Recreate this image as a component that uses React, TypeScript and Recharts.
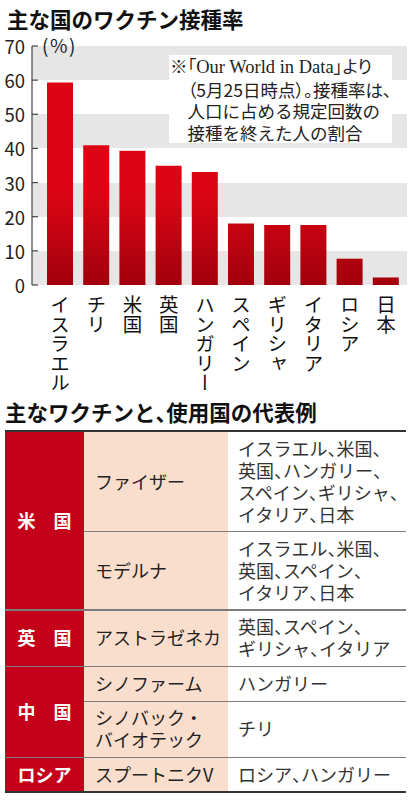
import React from 'react';
import { BarChart, Bar, XAxis, YAxis, CartesianGrid } from 'recharts';

// 接種率（%）
const countries = ['イスラエル', 'チリ', '米国', '英国', 'ハンガリー', 'スペイン', 'ギリシャ', 'イタリア', 'ロシア', '日本'];
const rates = [59.3, 40.9, 39.3, 34.9, 33.1, 18.0, 17.6, 17.6, 7.7, 2.2];
const yTicks = [0, 10, 20, 30, 40, 50, 60, 70];

const noteLines = ['（5月25日時点）。接種率は、', '人口に占める規定回数の', '接種を終えた人の割合'];

// 表
const makers = ['米　国', '英　国', '中　国', 'ロシア'];
const makerRows = [2, 1, 2, 1];
const vaccines = [['ファイザー'], ['モデルナ'], ['アストラゼネカ'], ['シノファーム'], ['シノバック・', 'バイオテック'], ['スプートニクV']];
const users = [
  ['イスラエル、米国、', '英国、ハンガリー、', 'スペイン、ギリシャ、', 'イタリア、日本'],
  ['イスラエル、米国、', '英国、スペイン、', 'イタリア、日本'],
  ['英国、スペイン、', 'ギリシャ、イタリア'],
  ['ハンガリー'],
  ['チリ'],
  ['ロシア、ハンガリー'],
];

const data = countries.map((country, i) => ({ country, rate: rates[i] }));

const FONT = '"Noto Sans CJK JP", "Noto Sans", sans-serif';
const RED = '#c4001a';
const PEACH = '#fadecd';
const LINE_H = 21.7;

// 読点だけ半角幅（halt）にする
function Jp({ text }: { text: string }) {
  const parts = text.split('、');
  return (
    <>
      {parts.map((p, i) => (
        <React.Fragment key={i}>
          {p}
          {i < parts.length - 1 && <span style={{ fontFeatureSettings: '"halt"' }}>、</span>}
        </React.Fragment>
      ))}
    </>
  );
}

function YTick(props: any) {
  const { x, y, payload } = props;
  return (
    <g>
      <line x1={x + 6} x2={x + 12} y1={y} y2={y} stroke="#444" strokeWidth={1.2} />
      <text x={x - 1} y={y} textAnchor="end" dominantBaseline="central" fontSize={18.5} fill="#222" fontFamily={FONT}>
        {payload.value}
      </text>
    </g>
  );
}

function VerticalTick(props: any) {
  const { x, y, payload } = props;
  return (
    <text
      x={x}
      y={y + 10}
      textAnchor="start"
      fontSize={19.5}
      fill="#111"
      fontFamily={FONT}
      style={{ writingMode: 'vertical-rl' }}
    >
      {payload.value}
    </text>
  );
}

function VaccineTable() {
  const heights = users.map((u, i) => 13 + LINE_H * Math.max(u.length, vaccines[i].length));
  const tops: number[] = [];
  let acc = 432;
  heights.forEach((h) => {
    tops.push(acc);
    acc += h;
  });
  const groupStarts: number[] = [];
  let r = 0;
  makerRows.forEach((n) => {
    groupStarts.push(r);
    r += n;
  });

  const cellText: React.CSSProperties = {
    position: 'absolute',
    display: 'flex',
    flexDirection: 'column',
    justifyContent: 'center',
    fontSize: 18,
    lineHeight: `${LINE_H}px`,
    color: '#222',
    whiteSpace: 'nowrap',
  };

  return (
    <>
      {makers.map((m, g) => {
        const start = groupStarts[g];
        const top = tops[start];
        const h = heights.slice(start, start + makerRows[g]).reduce((a, b) => a + b, 0);
        return (
          <div
            key={m}
            style={{
              ...cellText,
              left: 5, top, width: 79, height: h, background: RED, color: '#fff',
              fontWeight: 700, alignItems: 'center',
            }}
          >
            {m}
          </div>
        );
      })}
      {vaccines.map((v, i) => (
        <div key={'v' + i} style={{ ...cellText, left: 84, top: tops[i], width: 144, height: heights[i], background: PEACH, paddingLeft: 11, boxSizing: 'border-box' }}>
          {v.map((l) => <div key={l}>{l}</div>)}
        </div>
      ))}
      {users.map((u, i) => (
        <div key={'u' + i} style={{ ...cellText, left: 228, top: tops[i], width: 178, height: heights[i], paddingLeft: 10, boxSizing: 'border-box', color: '#333' }}>
          {u.map((l, j) => <div key={j}><Jp text={l} /></div>)}
        </div>
      ))}
      {tops.slice(1).map((t, i) => {
        const isGroup = groupStarts.includes(i + 1);
        return (
          <div key={'l' + i} style={{ position: 'absolute', left: isGroup ? 5 : 84, top: t - 0.5, width: isGroup ? 401 : 322, height: 1.2, background: '#7c7c7c' }} />
        );
      })}
      <div style={{ position: 'absolute', left: 5, top: 430, width: 401, height: 2, background: '#333' }} />
      <div style={{ position: 'absolute', left: 5, top: acc - 1, width: 401, height: 2, background: '#333' }} />
    </>
  );
}

export default function App() {
  return (
    <div style={{ position: 'absolute', left: 0, top: 0, width: 416, height: 800, background: '#fff', fontFamily: FONT, overflow: 'hidden' }}>
      <div style={{ position: 'absolute', left: 7, top: 8, fontSize: 21.5, fontWeight: 700, lineHeight: '22px', color: '#111', whiteSpace: 'nowrap' }}>
        主な国のワクチン接種率
      </div>

      <div style={{ position: 'absolute', left: 0, top: 0 }}>
        <BarChart width={416} height={400} data={data} margin={{ top: 46, right: 9, left: 0, bottom: 0 }}>
          <defs>
            <linearGradient id="barGrad" gradientUnits="userSpaceOnUse" x1="0" y1="195" x2="0" y2="285">
              <stop offset="0%" stopColor="#dc0514" />
              <stop offset="100%" stopColor="#a0000c" />
            </linearGradient>
          </defs>
          <CartesianGrid vertical={false} stroke="none" horizontalFill={['#e6e6e6', '#ffffff']} />
          <XAxis
            dataKey="country"
            height={115}
            axisLine={false}
            tickLine={false}
            tickSize={0}
            tickMargin={0}
            interval={0}
            padding={{ left: 10, right: 3 }}
            tick={<VerticalTick />}
          />
          <YAxis
            width={32}
            domain={[0, 70]}
            ticks={yTicks}
            interval={0}
            tickLine={false}
            tickSize={0}
            tickMargin={6}
            axisLine={{ stroke: '#444', strokeWidth: 1.2 }}
            tick={<YTick />}
          />
          <Bar dataKey="rate" fill="url(#barGrad)" barSize={26} isAnimationActive={false} />
        </BarChart>
      </div>

      <div style={{ position: 'absolute', left: 42, top: 34, fontSize: 19, lineHeight: '22px', letterSpacing: 1.5, color: '#222' }}>(%)</div>

      <div style={{ position: 'absolute', left: 169, top: 55, width: 223, height: 88, background: '#fff' }} />
      <div style={{ position: 'absolute', left: 170, top: 55, fontSize: 17.5, lineHeight: `${LINE_H}px`, color: '#222', whiteSpace: 'nowrap', fontFeatureSettings: '"palt"' }}>
        <div>
          ※「<span style={{ fontFamily: '"Liberation Serif", serif', fontSize: 18.5 }}>Our World in Data</span>」より
        </div>
        {noteLines.map((l, i) => (
          <div key={i} style={{ paddingLeft: 17.5, fontFeatureSettings: i === 0 ? '"palt"' : 'normal' }}>{l}</div>
        ))}
      </div>

      <div style={{ position: 'absolute', left: 5, top: 401, fontSize: 21.5, fontWeight: 700, lineHeight: '22px', color: '#111', whiteSpace: 'nowrap' }}>
        <Jp text="主なワクチンと、使用国の代表例" />
      </div>

      <VaccineTable />
    </div>
  );
}
